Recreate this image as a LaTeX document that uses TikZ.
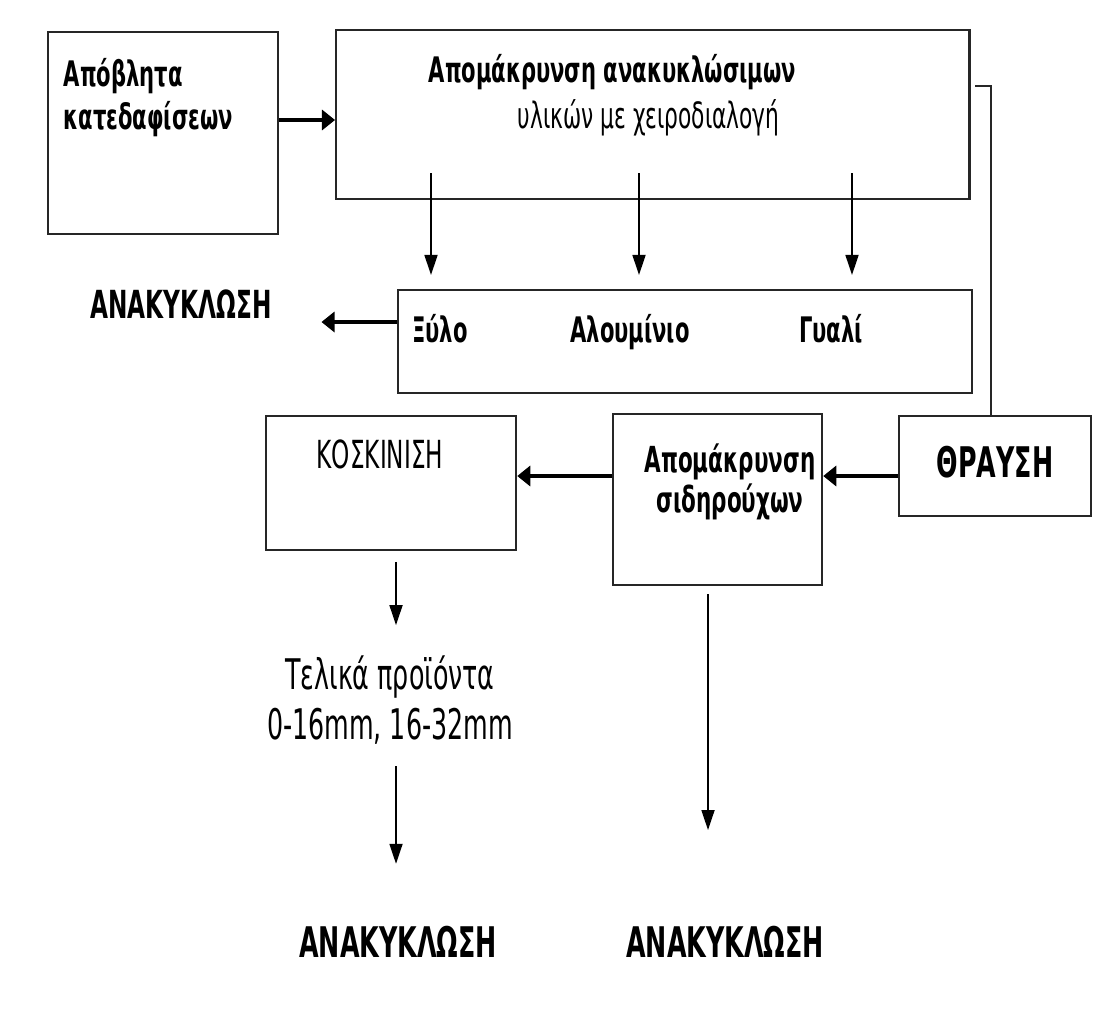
\documentclass[tikz,border=0pt]{standalone}
\usepackage{fontspec}
\setmainfont{DejaVu Sans}[FakeStretch=0.6]
\usetikzlibrary{arrows.meta,positioning}

\tikzset{
  stage/.style={draw=black!85, line width=0.6pt, anchor=north west, inner sep=0pt},
  heavy/.style={-{Triangle[length=3.7pt,width=5.7pt]}, line width=0.9pt},
  light/.style={-{Triangle[length=5.7pt,width=3.7pt]}, line width=0.5pt},
  plain/.style={line width=0.55pt, black!85},
  hdtxt/.style={font=\fontsize{10}{12.2}\selectfont\bfseries, inner sep=0pt},
  subtxt/.style={font=\fontsize{10.3}{12.4}\selectfont, inner sep=0pt},
  captxt/.style={font=\fontsize{12}{14}\selectfont\bfseries, inner sep=0pt},
  prodtxt/.style={font=\fontsize{12}{14.2}\selectfont, inner sep=0pt, align=center}
}

\begin{document}
\begin{tikzpicture}[x=0.01cm, y=-0.01cm]
  \useasboundingbox (0,0) rectangle (1110,1027);

  % process boxes
  \node[stage, minimum width=2.30cm, minimum height=2.02cm] (src) at (47,31) {};
  \node[stage, minimum width=6.33cm, minimum height=1.69cm] (sort) at (335,29) {};
  \node[stage, minimum width=5.74cm, minimum height=1.03cm] (mat) at (397,289) {};
  \node[stage, minimum width=2.50cm, minimum height=1.34cm] (sieve) at (265,415) {};
  \node[stage, minimum width=2.09cm, minimum height=1.71cm] (ferro) at (612,413) {};
  \node[stage, minimum width=1.92cm, minimum height=1.00cm] (crush) at (898,415) {};

  % texts
  \node[hdtxt, align=left, below right=2.7mm and 1.6mm of src.north west] (srctxt)
    {Απόβλητα\\κατεδαφίσεων};
  \node[hdtxt, anchor=base west] (sorthead) at (428,82) {Απομάκρυνση ανακυκλώσιμων};
  \node[subtxt, anchor=base west] (sortsub) at (517,128) {υλικών με χειροδιαλογή};
  \node[hdtxt, anchor=base] (wood) at (440,342) {Ξύλο};
  \node[hdtxt, anchor=base] (alu) at (630,342) {Αλουμίνιο};
  \node[hdtxt, anchor=base] (glass) at (831,342) {Γυαλί};
  \node[captxt, font=\fontsize{11}{13}\selectfont\bfseries, anchor=base] (recA) at (181,318) {ΑΝΑΚΥΚΛΩΣΗ};
  \node[subtxt, font=\fontsize{11}{13}\selectfont, anchor=base] (sievetxt) at (380,468) {ΚΟΣΚΙΝΙΣΗ};
  \node[hdtxt, font=\fontsize{10.2}{10.2}\selectfont\bfseries, align=center, anchor=north] (ferrotxt) at (730,443)
    {Απομάκρυνση\\σιδηρούχων};
  \node[captxt, anchor=base] (crushtxt) at (995,477) {ΘΡΑΥΣΗ};
  \node[prodtxt, anchor=north] (prod) at (390,655) {Τελικά προϊόντα\\0-16mm, 16-32mm};
  \node[captxt, anchor=base] (recB) at (398,957) {ΑΝΑΚΥΚΛΩΣΗ};
  \node[captxt, anchor=base] (recC) at (725,957) {ΑΝΑΚΥΚΛΩΣΗ};

  % connectors
  \coordinate (feed) at (0,120);
  \draw[heavy] (src.east |- feed) -- (sort.west |- feed);

  \coordinate (drop1) at (431,173);
  \coordinate (drop2) at (639,173);
  \coordinate (drop3) at (852,173);
  \draw[light, shorten >=4pt] (drop1) -- (drop1 |- mat.north);
  \draw[light, shorten >=4pt] (drop2) -- (drop2 |- mat.north);
  \draw[light, shorten >=4pt] (drop3) -- (drop3 |- mat.north);

  \coordinate (outlvl) at (0,322);
  \draw[heavy, shorten >=14pt] (mat.west |- outlvl) -- (recA.east |- outlvl);

  \coordinate (lane) at (0,476);
  \draw[heavy] (crush.west |- lane) -- (ferro.east |- lane);
  \draw[heavy] (ferro.west |- lane) -- (sieve.east |- lane);

  \coordinate (riser) at (991,86);
  \coordinate (tickend) at (975,86);
  \draw[plain] (crush.north -| riser) -- (riser) -- (tickend);

  \coordinate (chute) at (396,0);
  \draw[light, shorten <=3pt, shorten >=8.5pt] (sieve.south -| chute) -- (prod.north -| chute);
  \draw[light, shorten <=6pt, shorten >=17.4pt] (prod.south -| chute) -- (recB.north -| chute);

  \coordinate (ferrochute) at (708,0);
  \draw[light, shorten <=2.3pt, shorten >=27pt] (ferro.south -| ferrochute) -- (recC.north -| ferrochute);
\end{tikzpicture}
\end{document}
